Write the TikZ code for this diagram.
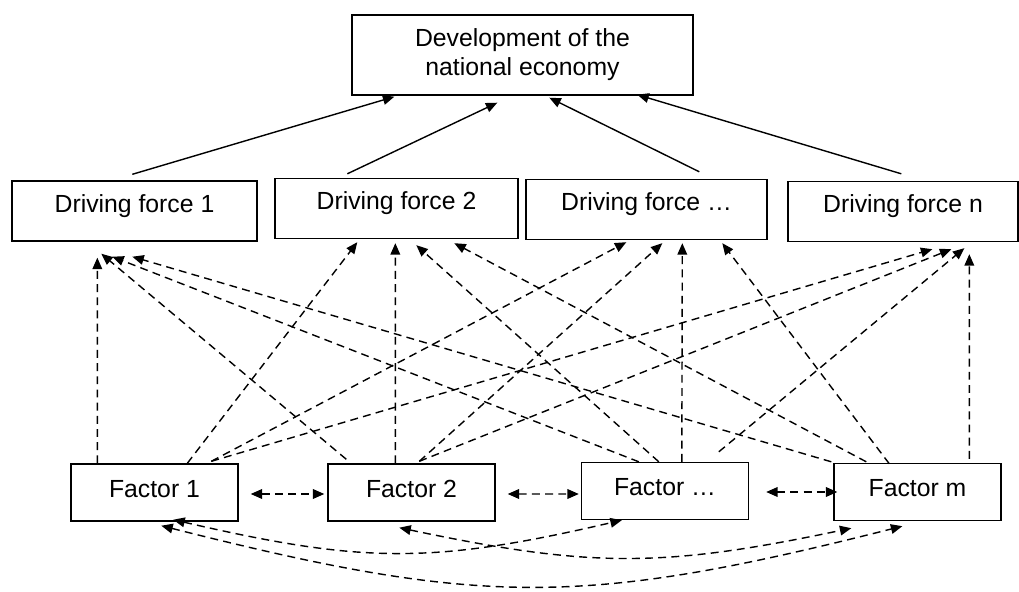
\documentclass[tikz,border=0pt]{standalone}
\usepackage{fontspec}
\setmainfont{Liberation Sans}
\usetikzlibrary{arrows.meta,calc}
\tikzset{
  box/.style={draw,line width=0.8pt,inner sep=0pt,font=\fontsize{14.1}{16.5}\selectfont},
  dfbox/.style={box,minimum height=1.2cm,text height=0.36cm,text depth=0.32cm},
  fbox/.style={box,minimum width=3.34cm,minimum height=1.14cm,text height=0.36cm,text depth=0.18cm},
  lead/.style={-{Triangle[length=6.5pt,width=5.5pt]},line width=0.8pt},
  dep/.style={lead,dash pattern=on 4.5pt off 3pt},
  mutual/.style={{Triangle[length=6.5pt,width=5.5pt]}-{Triangle[length=6.5pt,width=5.5pt]},line width=0.8pt,dash pattern=on 4.5pt off 3pt}
}
\begin{document}
\begin{tikzpicture}[x=0.02cm,y=-0.02cm]
  \useasboundingbox (0,0) rectangle (1019,592);
  \node[box,minimum width=6.82cm,minimum height=1.6cm,align=center] (top) at (522.5,55) {Development of the\\national economy};
  \node[dfbox,minimum width=4.9cm] (df1) at (134.5,211) {Driving force 1};
  \node[dfbox,minimum width=4.86cm] (df2) at (396.5,208.5) {Driving force 2};
  \node[dfbox,minimum width=4.82cm] (df3) at (646.5,209.5) {Driving force …};
  \node[dfbox,minimum width=4.6cm] (dfn) at (903,211.5) {Driving force n};
  \node[fbox] (f1) at (154.5,492.5) {Factor 1};
  \node[fbox] (f2) at (411.5,492.5) {Factor 2};
  \node[fbox] (f3) at (665,491) {Factor …};
  \node[fbox] (fm) at (917.5,492) {Factor m};
  \draw[lead] ($(df1.north west)+(121,-6)$) -- ($(top.south west)+(43,1)$);
  \draw[lead] ($(df2.north west)+(73,-4)$) -- ($(top.south west)+(146,7)$);
  \draw[lead] ($(df3.north west)+(174,-7)$) -- ($(top.south west)+(198,2)$);
  \draw[lead] ($(dfn.north west)+(114,-7)$) -- ($(top.south west)+(286,-1)$);
  \foreach \s/\sx/\sy/\t/\tx/\ty in {
      f1/27/0/df1/86/16, f1/117/0/df2/83/3, f1/141/-2/df3/101/2, f1/141/-2/dfn/145/7,
      f2/19/-4/df1/90/12, f2/68/0/df2/121/4, f2/92/-2/df3/137/3, f2/92/-2/dfn/164/7,
      f3/58/0/df1/101/15, f3/78/0/df2/142/6, f3/101/0/df3/157/3, f3/138/-10/dfn/177/6,
      fm/-2/-1/df1/121/15, fm/33/-1/df2/180/4, fm/56/1/df3/197/3, fm/136/-4/dfn/182/12}
    \draw[dep] ($(\s.north west)+(\sx,\sy)$) -- ($(\t.south west)+(\tx,\ty)$);
  \draw[mutual] ($(f1.east)+(12,1.5)$) -- ($(f2.west)+(-3,1.5)$);
  \draw[mutual] ($(f2.east)+(12,1.5)$) -- ($(f3.west)+(-2,3)$);
  \draw[mutual] ($(f3.east)+(17,1)$) -- ($(fm.west)+(4,0)$);
  \draw[mutual] ($(f1.south west)+(103,-2)$) .. controls +(190,44) and +(-190,44) .. ($(f3.south west)+(41,0)$);
  \draw[mutual] ($(f2.south west)+(72,6)$) .. controls +(190,40) and +(-190,40) .. ($(fm.south west)+(18,7)$);
  \draw[mutual] ($(f1.south west)+(91,4)$) .. controls +(320,81) and +(-320,81) .. ($(fm.south west)+(69,5)$);
\end{tikzpicture}
\end{document}
